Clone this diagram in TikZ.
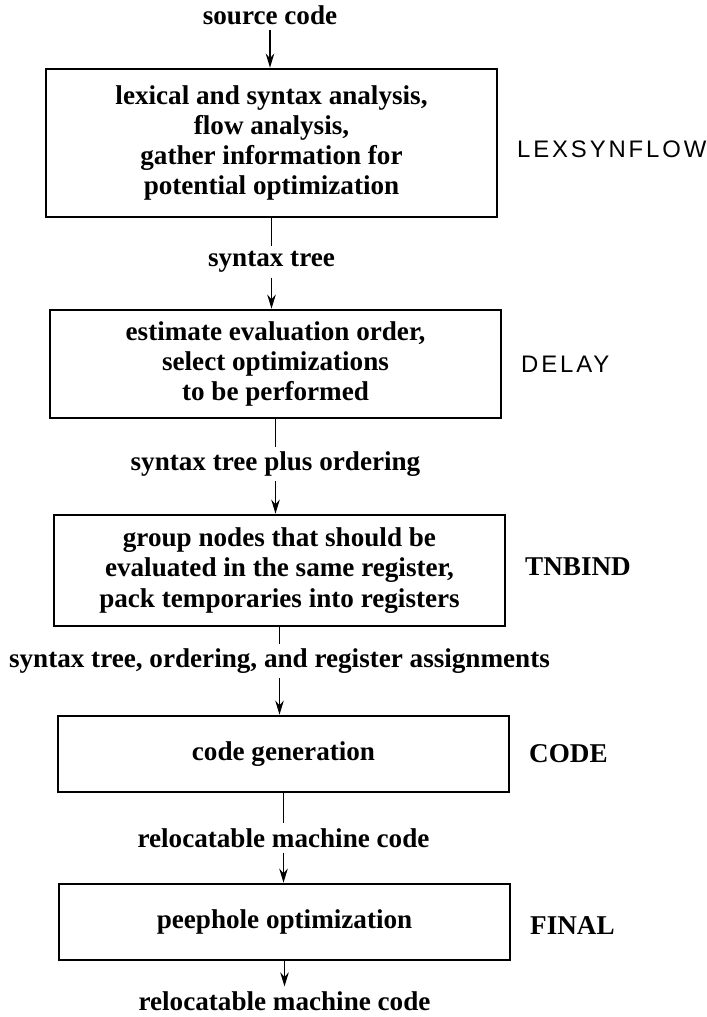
\documentclass[tikz,border=0pt]{standalone}
\usepackage{fontspec}
\setmainfont{Liberation Serif}
\newfontfamily\passsans[LetterSpace=12]{Liberation Sans}
\usetikzlibrary{positioning,arrows.meta}

\begin{document}
\begin{tikzpicture}[
  flowtext/.style={font=\bfseries\fontsize{19.3}{21.5}\selectfont},
  phase/.style={draw,line width=1.8pt,minimum width=11.275cm,align=center,flowtext},
  passname/.style={right=0.35cm of #1,flowtext},
  sansname/.style={font=\passsans\fontsize{17}{20}\selectfont},
  flow/.style={line width=1.4pt},
  flowarrow/.style={line width=1.4pt,-{Stealth[length=10pt,width=6pt]}}
]
  \useasboundingbox (0,0) rectangle (17.675,25.425);

  % compiler phases
  \node[phase,minimum height=3.7cm] (lex) at (6.7875,21.85)
    {lexical and syntax analysis,\\ flow analysis,\\ gather information for\\ potential optimization};
  \node[phase,minimum height=2.7cm] (delay) at (6.8875,16.325)
    {estimate evaluation order,\\ select optimizations\\ to be performed};
  \node[phase,minimum height=2.775cm] (tnbind) at (6.9875,11.1625)
    {group nodes that should be\\ evaluated in the same register,\\ pack temporaries into registers};
  \node[phase,minimum height=1.9cm] (code) at (7.0875,6.575) {code generation};
  \node[phase,minimum height=1.9cm] (final) at (7.1125,2.375) {peephole optimization};

  % pass names
  \node[passname=lex,yshift=-0.15cm,sansname] (lexname) {LEXSYNFLOW};
  \node[passname=delay,sansname] (delayname) {DELAY};
  \node[passname=tnbind,yshift=0.1cm] (tnbindname) {TNBIND};
  \node[passname=code] (codename) {CODE};
  \node[passname=final,yshift=-0.1cm] (finalname) {FINAL};

  % data passed between phases
  \node[flowtext] (src) at (6.75,25.05) {source code};
  \node[flowtext] (tree) at (6.7875,18.875) {syntax tree};
  \node[flowtext] (order) at (6.8875,13.825) {syntax tree plus ordering};
  \node[flowtext] (regs) at (6.9875,8.9) {syntax tree, ordering, and register assignments};
  \node[flowtext] (reloc) at (7.0875,4.475) {relocatable machine code};
  \node[flowtext] (out) at (7.1125,0.4) {relocatable machine code};

  \draw[flowarrow] (src) -- (src |- lex.north);
  \draw[flow] (lex) -- (lex |- tree.north);
  \draw[flowarrow] (tree) -- (tree |- delay.north);
  \draw[flow] (delay) -- (delay |- order.north);
  \draw[flowarrow] (order) -- (order |- tnbind.north);
  \draw[flow] (tnbind) -- (tnbind |- regs.north);
  \draw[flowarrow] (regs) -- (regs |- code.north);
  \draw[flow] (code) -- (code |- reloc.north);
  \draw[flowarrow] (reloc) -- (reloc |- final.north);
  \draw[flowarrow] (final) -- (final |- out.north);
\end{tikzpicture}
\end{document}
